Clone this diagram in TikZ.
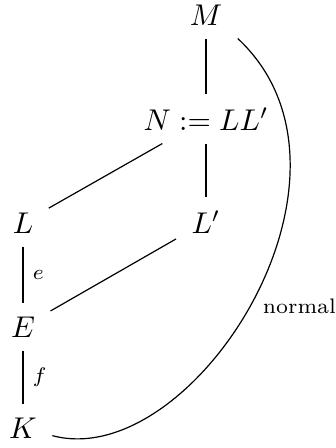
\documentclass[tikz,border=0pt]{standalone}
\usepackage{amsmath, amssymb}
\usepackage{tikz}
\tikzset{field/.style={anchor=base, inner xsep=5pt, inner ysep=1ex}}
\tikzset{elab/.style={font=\scriptsize, inner sep=3pt}}

\begin{document}
\begin{tikzpicture}[scale=1.0]
\useasboundingbox (0,0) rectangle (3.925,-5.248);
\node[field] (M) at (2.413,-0.293) {$M$};
\node[field] (N) at (2.413,-1.523) {$N := LL'$};
\node[field] (L) at (0.269,-2.730) {$L$};
\node[field] (Lp) at (2.413,-2.730) {$L'$};
\node[field] (E) at (0.269,-3.948) {$E$};
\node[field] (K) at (0.269,-5.131) {$K$};
\draw (M) -- (N);
\draw (N) -- (L);
\draw (N) -- (Lp);
\draw (Lp) -- (E);
\draw (L) -- (E) node[midway,right,elab]{$e$};
\draw (E) -- (K) node[midway,right,elab]{$f$};
\draw (M.south east) to[out=-43, in=-15, out distance=2.34cm, in distance=1.70cm] node[pos=0.5,right,elab,xshift=0.3pt,yshift=-1.5pt]{normal} (K);
\end{tikzpicture}
\end{document}
